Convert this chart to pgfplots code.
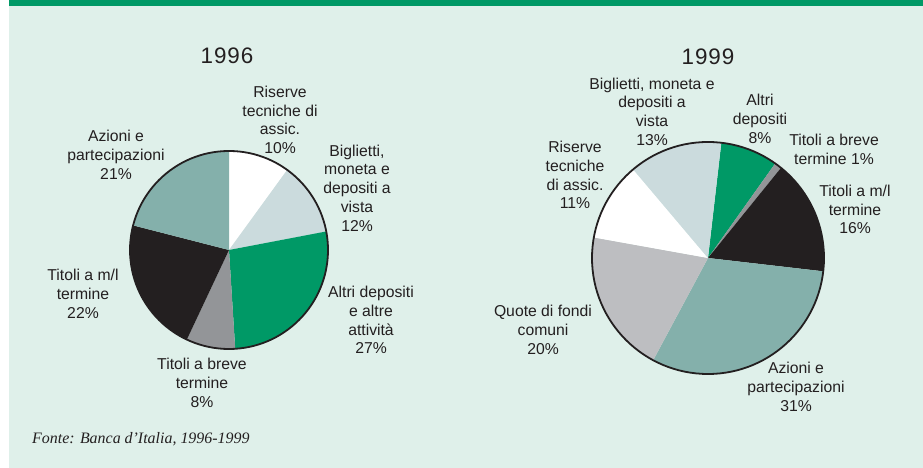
\documentclass[border=0pt]{standalone}
\usepackage{pgfplots}
\pgfplotsset{compat=1.18}
\usepackage{fontspec}
\setmainfont{Liberation Sans}
\newfontfamily\srcfont{Liberation Serif}

\definecolor{bgmint}{HTML}{DFF0EA}
\definecolor{bargreen}{HTML}{009966}
\definecolor{txt}{HTML}{231F20}
\definecolor{cLight}{HTML}{CBDBDD}
\definecolor{cGreen}{HTML}{009966}
\definecolor{cGray}{HTML}{939598}
\definecolor{cBlack}{HTML}{231F20}
\definecolor{cTeal}{HTML}{84B0AB}
\definecolor{cQuote}{HTML}{BDBEC1}

\tikzset{
  lbl/.style={text=txt, align=center, inner sep=0pt, font=\fontsize{15.8}{18.8}\selectfont},
  yr/.style={text=txt, inner sep=0pt, font=\fontsize{22.5}{26}\selectfont\addfontfeature{LetterSpace=4}},
}

% pie: centre x, centre y, radius, start angle, list of value/colour (clockwise)
\newcommand{\piechart}[5]{%
  \xdef\pieang{#4}%
  \foreach \v/\c in {#5} {%
    \pgfmathsetmacro\pieend{\pieang-3.6*\v}%
    \edef\temp{\noexpand\fill[\c] (axis cs:#1,#2) -- ++(\pieang:#3bp)
      arc[start angle=\pieang, end angle=\pieend, radius=#3bp] -- cycle;}%
    \temp
    \xdef\pieang{\pieend}%
  }%
  \draw[txt, line width=1.8bp] (axis cs:#1,#2) circle[radius=#3bp];
}

\begin{document}
\begin{tikzpicture}

% ── Background ──
\fill[white] (0,0) rectangle (923bp,468bp);
\fill[bgmint] (9bp,0) rectangle (923bp,468bp);
\fill[bargreen] (9bp,462bp) rectangle (923bp,468bp);

\begin{axis}[
  at={(0,0)}, anchor=south west,
  width=923bp, height=468bp, scale only axis,
  xmin=0, xmax=923, ymin=0, ymax=468,
  axis lines=none, clip=false,
]

% 1996
\piechart{229}{218}{99}{90}{10/white, 12/cLight, 27/cGreen, 8/cGray, 22/cBlack, 21/cTeal}

\node[yr] at (axis cs:227,412) {1996};
\node[lbl] at (axis cs:280,348) {Riserve\\tecniche di\\assic.\\10\%};
\node[lbl] at (axis cs:357,280) {Biglietti,\\moneta e\\depositi a\\vista\\12\%};
\node[lbl] at (axis cs:116,313) {Azioni e\\partecipazioni\\21\%};
\node[lbl] at (axis cs:83,174) {Titoli a m/l\\termine\\22\%};
\node[lbl] at (axis cs:371,148) {Altri depositi\\e altre\\attività\\27\%};
\node[lbl] at (axis cs:202,85) {Titoli a breve\\termine\\8\%};

% 1999
\piechart{708}{210}{116}{83.4}{8/cGreen, 1/cGray, 16/cBlack, 31/cTeal, 20/cQuote, 11/white, 13/cLight}

\node[yr] at (axis cs:708,411) {1999};
\node[lbl] at (axis cs:652,356.5) {Biglietti, moneta e\\depositi a\\vista\\13\%};
\node[lbl] at (axis cs:760,349) {Altri\\depositi\\8\%};
\node[lbl] at (axis cs:834,318.5) {Titoli a breve\\termine 1\%};
\node[lbl] at (axis cs:855,258.5) {Titoli a m/l\\termine\\16\%};
\node[lbl] at (axis cs:575,293) {Riserve\\tecniche\\di assic.\\11\%};
\node[lbl] at (axis cs:543,138) {Quote di fondi\\comuni\\20\%};
\node[lbl] at (axis cs:796,81) {Azioni e\\partecipazioni\\31\%};

% source
\node[anchor=base west, inner sep=0pt, text=txt, font=\srcfont\itshape\fontsize{16}{18}\selectfont]
  at (axis cs:32,24.7) {Fonte: Banca d’Italia, 1996-1999};

\end{axis}
\end{tikzpicture}
\end{document}
